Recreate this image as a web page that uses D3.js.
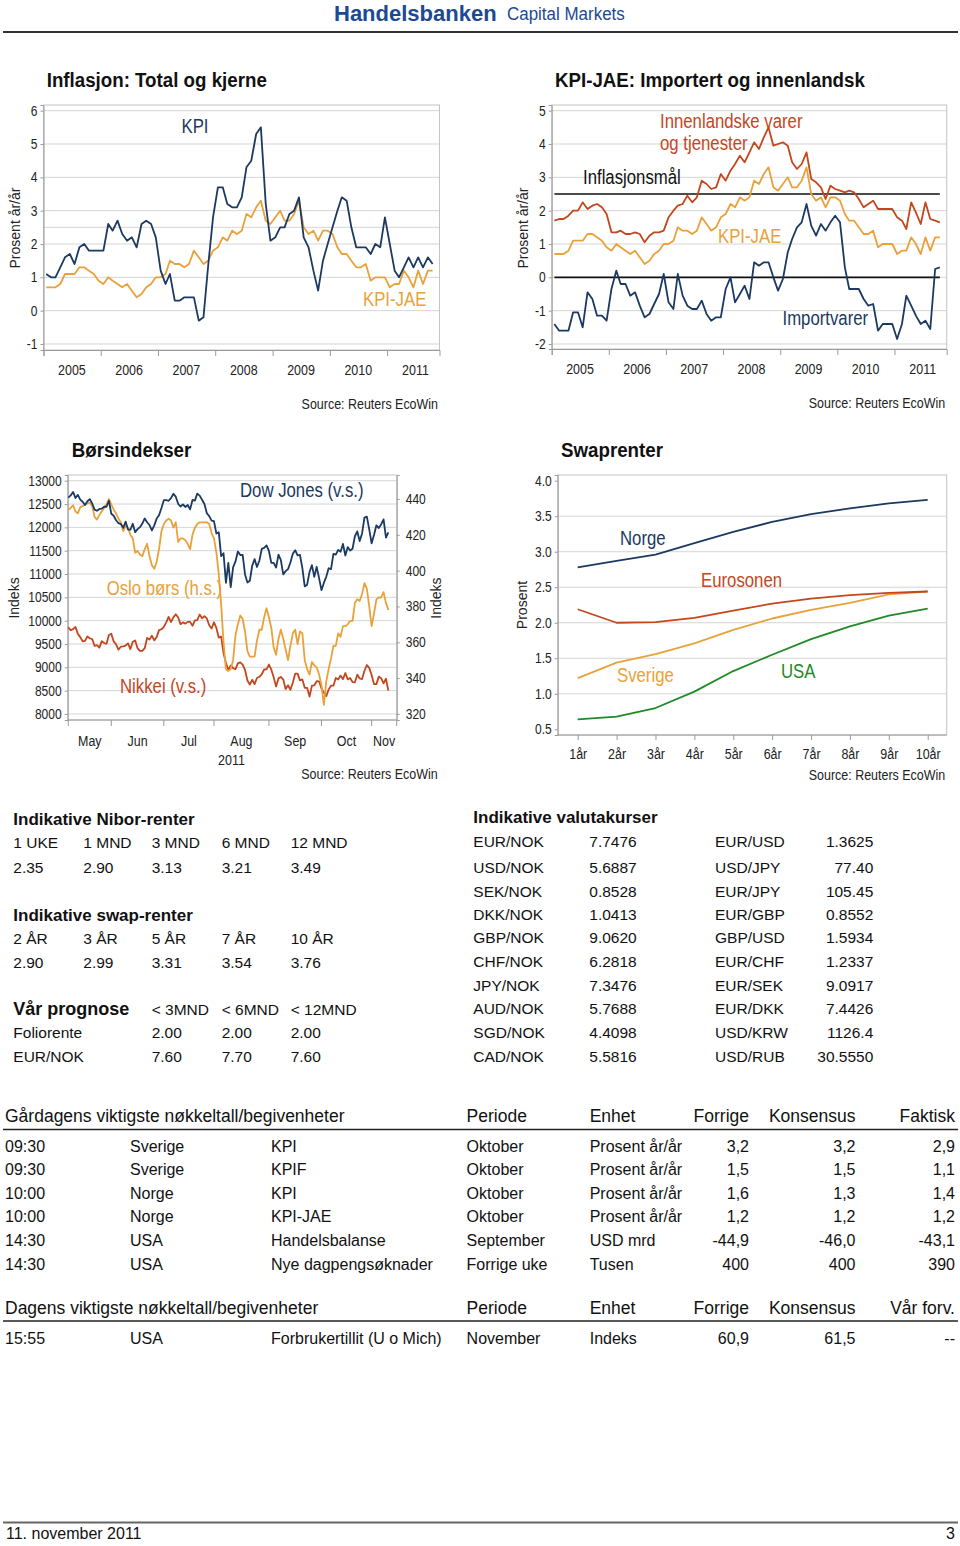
<!DOCTYPE html>
<html><head><meta charset="utf-8">
<script src="https://cdn.jsdelivr.net/npm/d3@7"></script>
<style>body{margin:0;background:#fff}svg{display:block}</style>
</head><body>
<svg id="page" width="960" height="1546"></svg>
<script>
// ---------------- DATA ----------------
const yearLabels = ["2005","2006","2007","2008","2009","2010","2011"];
// monthly, Jan 2005 .. Oct 2011
const kpi = [1.1,1.0,1.0,1.3,1.6,1.7,1.4,1.9,2.0,1.8,1.8,1.8,
 1.8,2.6,2.4,2.7,2.3,2.1,2.2,1.9,2.6,2.7,2.6,2.2,
 1.2,0.8,1.1,0.3,0.3,0.4,0.4,0.4,-0.3,-0.2,1.4,2.8,
 3.7,3.7,3.2,3.1,3.1,3.4,4.3,4.5,5.3,5.5,3.2,2.1,
 2.2,2.5,2.5,2.9,3.0,3.4,2.2,1.9,1.2,0.6,1.5,2.0,
 2.5,3.0,3.4,3.3,2.5,1.9,1.9,1.9,1.7,2.0,1.9,2.8,
 2.0,1.2,1.0,1.3,1.6,1.3,1.6,1.3,1.6,1.4];
const kpiJae = [0.7,0.7,0.7,0.8,1.1,1.1,1.1,1.3,1.3,1.2,1.1,0.9,
 0.8,1.0,0.9,0.8,0.7,0.8,0.6,0.4,0.5,0.7,0.8,1.0,
 1.0,1.1,1.5,1.4,1.4,1.3,1.4,1.8,1.6,1.4,1.5,1.8,
 1.9,2.2,2.1,2.4,2.3,2.4,2.9,2.8,3.1,3.3,2.7,2.6,
 2.8,3.0,2.7,2.7,2.9,3.3,2.5,2.3,2.4,2.1,2.4,2.4,
 2.3,1.9,1.7,1.7,1.5,1.3,1.3,1.4,0.9,1.0,1.0,1.0,
 0.7,0.8,0.8,1.2,1.0,0.7,1.2,0.8,1.2,1.2];
const innenlandske = [1.7,1.75,1.75,1.85,2.0,2.0,2.25,2.05,2.15,2.2,2.1,1.9,
 1.35,1.35,1.4,1.3,1.3,1.35,1.3,1.05,1.25,1.35,1.35,1.4,
 1.8,2.0,2.15,2.2,2.45,2.25,2.4,2.9,2.8,2.65,2.7,3.1,
 2.9,3.2,3.4,3.65,3.45,3.75,4.05,3.85,4.2,4.5,3.95,4.0,
 4.05,3.95,3.45,3.25,3.4,3.75,2.95,2.85,2.7,2.35,2.75,2.65,
 2.6,2.55,2.6,2.55,2.35,2.1,2.2,2.3,2.05,2.05,2.05,2.05,
 1.8,1.7,1.45,2.25,1.95,1.6,2.25,1.75,1.7,1.65];
const importvarer = [-1.4,-1.6,-1.6,-1.6,-1.05,-1.05,-1.5,-0.45,-0.65,-1.15,-1.15,-1.3,
 -0.35,0.2,-0.2,-0.2,-0.55,-0.45,-0.85,-1.2,-1.1,-0.8,-0.5,0.1,
 -0.75,-0.95,0.1,-0.55,-0.85,-0.95,-0.95,-0.7,-1.1,-1.3,-1.2,-1.2,
 -0.35,0.0,-0.75,-0.5,-0.25,-0.65,0.45,0.35,0.45,0.45,0.0,-0.4,
 -0.05,0.75,1.15,1.5,1.65,2.2,1.55,1.25,1.6,1.4,1.65,1.85,
 1.65,0.3,-0.35,-0.35,-0.35,-0.65,-0.85,-0.8,-1.6,-1.4,-1.4,-1.4,
 -1.85,-1.4,-0.55,-0.85,-1.15,-1.4,-1.3,-1.55,0.25,0.3];
const inflasjonsmaal = 2.5;

// daily (trading days), 6 May 2011 .. 10 Nov 2011
const monthLabels = ["May","Jun","Jul","Aug","Sep","Oct","Nov"];
const dowJones = [12638,12684,12760,12630,12695,12595,12548,12479,12560,12605,12512,12381,12356,12394,12402,12441,12441,12570,
 12290,12248,12152,12089,12070,11990,12124,11952,11953,12076,11897,11962,12004,12081,12190,12109,12050,11934,12043,12188,12261,12414,
 12582,12582,12570,12626,12719,12657,12505,12447,12491,12437,12480,12385,12587,12572,12724,12681,12592,12501,12302,12240,12143,
 12132,11867,11896,11384,11445,10810,11240,10720,11143,11269,11482,11406,11410,10990,10818,10855,11177,11320,11150,11285,11540,11560,11614,
 11494,11240,11240,11140,11415,11296,10992,11062,11105,11247,11434,11510,11401,11408,11125,10733,10771,11044,11190,10939,11154,10913,
 10655,10809,10940,11124,11103,11433,11416,11518,11478,11644,11397,11577,11505,11541,11809,11913,11707,11869,12209,12231,11955,
 11658,11836,12044,11983,12068,12170,11780,11894];
const nikkei = [9859,9794,9818,9864,9716,9648,9558,9567,9662,9620,9607,9460,9477,9422,9562,9521,9504,9693,
 9719,9555,9492,9380,9442,9449,9467,9514,9391,9547,9574,9411,9351,9354,9410,9629,9597,9678,9578,9648,9797,9816,
 9868,9965,10082,9972,10071,10137,10069,9925,9963,9936,9974,9974,9890,10005,10010,10132,10050,10097,10047,9902,9833,
 9965,9844,9637,9659,9299,9098,8944,9038,8981,8963,9086,9107,9057,8943,8719,8628,8733,8639,8772,8797,8851,8953,8955,
 9060,8950,8785,8590,8763,8793,8737,8535,8616,8519,8668,8864,8864,8721,8741,8560,8560,8374,8609,8615,8701,8700,
 8545,8456,8382,8522,8606,8606,8773,8738,8823,8747,8879,8742,8772,8682,8678,8843,8762,8748,8926,9050,8988,
 8835,8640,8640,8801,8767,8655,8755,8500];
const osloBors = [434,435,436.5,433,432,435.5,436,437,437.5,438,436,430,428.5,431,433,435,437,440,
 437,434,432,429,427,422,425,424,420,418,410,411,409,408,412,415,408,403,401,405,412,422,
 426,428,429,428,424,427,416,418,418,417,415,412,420,424,426,427,427,427,427,426,421,
 418,410,398,381,360,345,344,345,350,364,370,375,373,366,355,352,352,352,361,367,367,374,379,
 374,368,357,353,362,367,362,356,350,358,365,367,359,366,365,350,345,342,349,347,346,342,
 336,325,338,345,351,358,358,365,363,369,369,370,372,372,382,384,383,387,393,390,380,
 369,376,384,385,385,388,382,378];

const swapTenors = ["1år","2år","3år","4år","5år","6år","7år","8år","9år","10år"];
const swapNorge    = [2.78,2.87,2.96,3.12,3.28,3.42,3.53,3.61,3.68,3.73];
const swapEuro     = [2.19,2.00,2.01,2.07,2.17,2.27,2.34,2.39,2.42,2.44];
const swapSverige  = [1.22,1.44,1.56,1.71,1.90,2.06,2.18,2.28,2.40,2.44];
const swapUSA      = [0.64,0.68,0.80,1.03,1.32,1.55,1.77,1.95,2.10,2.20];

const niborTenors = ["1 UKE","1 MND","3 MND","6 MND","12 MND"];
const niborRates  = ["2.35","2.90","3.13","3.21","3.49"];
const nokSwapTenors = ["2 ÅR","3 ÅR","5 ÅR","7 ÅR","10 ÅR"];
const nokSwapRates  = ["2.90","2.99","3.31","3.54","3.76"];
const prognoseHorizons = ["< 3MND","< 6MND","< 12MND"];
const prognoseFolio  = ["2.00","2.00","2.00"];
const prognoseEurNok = ["7.60","7.70","7.60"];

const fxPairsLeft  = ["EUR/NOK","USD/NOK","SEK/NOK","DKK/NOK","GBP/NOK","CHF/NOK","JPY/NOK","AUD/NOK","SGD/NOK","CAD/NOK"];
const fxRatesLeft  = ["7.7476","5.6887","0.8528","1.0413","9.0620","6.2818","7.3476","5.7688","4.4098","5.5816"];
const fxPairsRight = ["EUR/USD","USD/JPY","EUR/JPY","EUR/GBP","GBP/USD","EUR/CHF","EUR/SEK","EUR/DKK","USD/KRW","USD/RUB"];
const fxRatesRight = ["1.3625","77.40","105.45","0.8552","1.5934","1.2337","9.0917","7.4426","1126.4","30.5550"];

const eventHeadersY = ["Gårdagens viktigste nøkkeltall/begivenheter","Periode","Enhet","Forrige","Konsensus","Faktisk"];
const eventsYesterday = [
 ["09:30","Sverige","KPI","Oktober","Prosent år/år","3,2","3,2","2,9"],
 ["09:30","Sverige","KPIF","Oktober","Prosent år/år","1,5","1,5","1,1"],
 ["10:00","Norge","KPI","Oktober","Prosent år/år","1,6","1,3","1,4"],
 ["10:00","Norge","KPI-JAE","Oktober","Prosent år/år","1,2","1,2","1,2"],
 ["14:30","USA","Handelsbalanse","September","USD mrd","-44,9","-46,0","-43,1"],
 ["14:30","USA","Nye dagpengsøknader","Forrige uke","Tusen","400","400","390"]];
const eventHeadersT = ["Dagens viktigste nøkkeltall/begivenheter","Periode","Enhet","Forrige","Konsensus","Vår forv."];
const eventsToday = [["15:55","USA","Forbrukertillit (U o Mich)","November","Indeks","60,9","61,5","--"]];

// ---------------- STYLE ----------------
const NAVY="#1b3961", ORANGE="#e9a13a", RED="#c4461d", GREEN="#1f8a26";
const SANS="'Liberation Sans',Arial,sans-serif";
const GRID="#d5d5d5", BORDER="#c4c4c4", AXIS="#9a9a9a";
const NX=0.86; // horizontal compression of chart-internal text

const svg = d3.select("#page");
svg.append("rect").attr("width",960).attr("height",1546).attr("fill","#fff");

function txt(x,y,s,o={}){
  const t=svg.append("text").attr("x",x).attr("y",y).text(s)
    .attr("font-family",SANS).attr("font-size",o.size||15.5)
    .attr("font-weight",o.weight||"normal").attr("fill",o.fill||"#111")
    .attr("text-anchor",o.anchor||"start");
  if(o.rotate) t.attr("transform",`rotate(-90,${x},${y})`);
  else if(o.sx) t.attr("transform",`matrix(${o.sx},0,0,1,${x*(1-o.sx)},0)`);
  return t;
}
function styleAxis(g,size){
  g.selectAll("path.domain").attr("stroke",AXIS);
  g.selectAll(".tick line").attr("stroke",AXIS);
  g.selectAll(".tick text").attr("font-family",SANS).attr("font-size",size||14).attr("fill","#222")
    .each(function(){const x=+(this.getAttribute("x")||0);
      this.setAttribute("transform",`matrix(${NX},0,0,1,${x*(1-NX)},0)`);});
}
function grid(x0,x1,ys){
  ys.forEach(y=>svg.append("line").attr("x1",x0).attr("x2",x1).attr("y1",y).attr("y2",y)
    .attr("stroke",GRID).attr("stroke-width",1));
}
function border(b){
  svg.append("rect").attr("x",b.left).attr("y",b.top).attr("width",b.right-b.left)
    .attr("height",b.bottom-b.top).attr("fill","none").attr("stroke",BORDER);
}
function path(data,xf,yf,color,w){
  svg.append("path").datum(data).attr("fill","none").attr("stroke",color)
    .attr("stroke-width",w||1.8).attr("stroke-linejoin","round")
    .attr("d",d3.line().x((d,i)=>xf(i)).y(d=>yf(d)));
}
const LBL=(fill)=>({size:19.5,fill,sx:NX});
const SRC={size:14,anchor:"end",fill:"#222",sx:0.89};
const TITLE={weight:"bold",size:19.5,sx:0.96};

// ---------------- HEADER ----------------
txt(334,20.5,"Handelsbanken",{weight:"bold",size:22,fill:"#1c4a92"});
txt(507,20.5,"Capital Markets",{size:17.5,fill:"#1c4a92",sx:0.97});
svg.append("line").attr("x1",3).attr("x2",958).attr("y1",32).attr("y2",32).attr("stroke","#333").attr("stroke-width",2);

// ---------------- monthly charts helper ----------------
function monthlyChart(b, yDomain, ticks, series, extra){
  const n = series[0].data.length;
  const dates = d3.range(n).map(i=>new Date(2005,i,18));
  const x = d3.scaleTime().domain([new Date(2005,0,1),new Date(2011,11,1)]).range([b.left,b.right]);
  const y = d3.scaleLinear().domain(yDomain).range([b.bottom,b.top]);
  grid(b.left,b.right,ticks.map(y));
  if(extra.grid) grid(b.left,b.right,extra.grid.map(y));
  border(b);
  const ga=svg.append("g").attr("transform",`translate(${b.left},0)`)
    .call(d3.axisLeft(y).tickValues(ticks).tickSize(3).tickPadding(3).tickFormat(d=>String(d)));
  styleAxis(ga);
  const years = yearLabels.map(s=>new Date(+s,0,1));
  const gb=svg.append("g").attr("transform",`translate(0,${b.bottom})`)
    .call(d3.axisBottom(x).tickValues(years).tickSize(6).tickFormat(""));
  styleAxis(gb);
  yearLabels.forEach(s=>txt(x(new Date(+s,6,1)),b.bottom+25,s,{size:14.5,anchor:"middle",fill:"#222",sx:NX}));
  if(extra.hlines) extra.hlines.forEach(v=>svg.append("line")
      .attr("x1",x(dates[0])).attr("x2",x(dates[n-1])).attr("y1",y(v)).attr("y2",y(v))
      .attr("stroke","#111").attr("stroke-width",1.6));
  series.forEach(s=>path(s.data,i=>x(dates[i]),y,s.color));
  txt(b.right-1.5,b.bottom+59,"Source: Reuters EcoWin",SRC);
}

// Chart 1
txt(46.7,87.3,"Inflasjon: Total og kjerne",TITLE);
monthlyChart({left:43.5,right:439.5,top:105,bottom:350},[-1.18,6.17],d3.range(-1,7),
  [{data:kpiJae,color:ORANGE},{data:kpi,color:NAVY}],{grid:[inflasjonsmaal]});
txt(19.5,228,"Prosent år/år",{size:14,anchor:"middle",rotate:true,fill:"#222"});
txt(181.5,133,"KPI",LBL(NAVY));
txt(363,306,"KPI-JAE",LBL(ORANGE));

// Chart 2
txt(555,87.3,"KPI-JAE: Importert og innenlandsk",TITLE);
monthlyChart({left:551.7,right:946.7,top:105,bottom:349},[-2.15,5.17],d3.range(-2,6),
  [{data:kpiJae,color:ORANGE},{data:innenlandske,color:RED},{data:importvarer,color:NAVY}],
  {hlines:[inflasjonsmaal,0]});
txt(527.5,228,"Prosent år/år",{size:14,anchor:"middle",rotate:true,fill:"#222"});
txt(660,128,"Innenlandske varer",LBL(RED));
txt(660,150.5,"og tjenester",LBL(RED));
txt(583,184.5,"Inflasjonsmål",LBL("#111"));
txt(718,243,"KPI-JAE",LBL(ORANGE));
txt(782.5,325.5,"Importvarer",LBL(NAVY));

// ---------------- Chart 3: Børsindekser ----------------
(function(){
  const b={left:67.7,right:396.7,top:475,bottom:720};
  const days=[]; for(let d=new Date(2011,4,6); d<=new Date(2011,10,10); d=new Date(d.getFullYear(),d.getMonth(),d.getDate()+1)){
    if(d.getDay()!==0&&d.getDay()!==6) days.push(d);}
  const x=d3.scaleLinear().domain([-0.25,137.5]).range([b.left,b.right]);
  const yL=d3.scaleLinear().domain([7871,13122]).range([b.bottom,b.top]);
  const yR=d3.scaleLinear().domain([316.6,453.4]).range([b.bottom,b.top]);
  const lt=d3.range(8000,13001,500), rt=d3.range(320,441,20);
  grid(b.left,b.right,lt.map(yL));
  border(b);
  styleAxis(svg.append("g").attr("transform",`translate(${b.left},0)`).call(d3.axisLeft(yL).tickValues(lt).tickSize(3).tickPadding(3).tickFormat(d=>String(d))));
  styleAxis(svg.append("g").attr("transform",`translate(${b.right},0)`).call(d3.axisRight(yR).tickValues(rt).tickSize(3).tickPadding(6).tickFormat(d=>String(d))));
  const firsts=[0]; days.forEach((d,i)=>{ if(i>0&&d.getMonth()!==days[i-1].getMonth()) firsts.push(i); });
  const tickX=firsts.map(i=>x(i)); tickX.push(b.right);
  tickX.forEach(tx=>svg.append("line").attr("x1",tx).attr("x2",tx).attr("y1",b.bottom).attr("y2",b.bottom+6).attr("stroke",AXIS));
  svg.append("line").attr("x1",b.left).attr("x2",b.right).attr("y1",b.bottom).attr("y2",b.bottom).attr("stroke",AXIS);
  monthLabels.forEach((m,k)=>txt((tickX[k]+tickX[k+1])/2,b.bottom+26,m,{size:14.5,anchor:"middle",fill:"#222",sx:NX}));
  txt((tickX[3]+tickX[4])/2-10,b.bottom+45,"2011",{size:14.5,anchor:"middle",fill:"#222",sx:NX});
  path(nikkei,x,yL,RED);
  path(osloBors,x,yR,ORANGE);
  path(dowJones,x,yL,NAVY);
  txt(b.right+41,779.3,"Source: Reuters EcoWin",SRC);
})();
txt(71.7,456.7,"Børsindekser",TITLE);
txt(19.3,598,"Indeks",{size:14,anchor:"middle",rotate:true,fill:"#222"});
txt(440.7,598,"Indeks",{size:14,anchor:"middle",rotate:true,fill:"#222"});
txt(240,497,"Dow Jones (v.s.)",LBL(NAVY));
txt(106.7,595,"Oslo børs (h.s.)",LBL(ORANGE));
txt(120,693,"Nikkei (v.s.)",LBL(RED));

// ---------------- Chart 4: Swaprenter ----------------
(function(){
  const b={left:557.7,right:946.7,top:475,bottom:735};
  const x=d3.scalePoint().domain(swapTenors).range([577.7,927.7]);
  const y=d3.scaleLinear().domain([0.42,4.08]).range([b.bottom,b.top]);
  const ticks=d3.range(0.5,4.01,0.5);
  grid(b.left,b.right,ticks.slice(1,-1).map(y));
  border(b);
  styleAxis(svg.append("g").attr("transform",`translate(${b.left},0)`).call(d3.axisLeft(y).tickValues(ticks).tickSize(3).tickPadding(3).tickFormat(d3.format(".1f"))));
  const gb=svg.append("g").attr("transform",`translate(0,${b.bottom})`).call(d3.axisBottom(x).tickSize(5).tickPadding(9));
  gb.select("path.domain").attr("d",`M${b.left},0H${b.right}`);
  styleAxis(gb,14.5);
  const xi=i=>x(swapTenors[i]);
  path(swapUSA,xi,y,GREEN);
  path(swapSverige,xi,y,ORANGE);
  path(swapEuro,xi,y,RED);
  path(swapNorge,xi,y,NAVY);
  txt(b.right-1.5,780,"Source: Reuters EcoWin",SRC);
})();
txt(561,456.7,"Swaprenter",TITLE);
txt(526.7,605,"Prosent",{size:14,anchor:"middle",rotate:true,fill:"#222"});
txt(620,545,"Norge",LBL(NAVY));
txt(701,587.5,"Eurosonen",LBL(RED));
txt(617,682,"Sverige",LBL(ORANGE));
txt(781,678.5,"USA",LBL(GREEN));

// ---------------- Rate tables ----------------
const tCols=[13.3,83.3,151.7,221.7,290.7];
txt(13.3,825,"Indikative Nibor-renter",{weight:"bold",size:17});
niborTenors.forEach((s,i)=>txt(tCols[i],847.5,s));
niborRates.forEach((s,i)=>txt(tCols[i],873.3,s));
txt(13.3,920.7,"Indikative swap-renter",{weight:"bold",size:17});
nokSwapTenors.forEach((s,i)=>txt(tCols[i],944,s));
nokSwapRates.forEach((s,i)=>txt(tCols[i],967.7,s));
txt(13.3,1015,"Vår prognose",{weight:"bold",size:18});
prognoseHorizons.forEach((s,i)=>txt(tCols[i+2],1015,s));
txt(13.3,1038.3,"Foliorente");
prognoseFolio.forEach((s,i)=>txt(tCols[i+2],1038.3,s));
txt(13.3,1061.7,"EUR/NOK");
prognoseEurNok.forEach((s,i)=>txt(tCols[i+2],1061.7,s));

txt(473.3,823.3,"Indikative valutakurser",{weight:"bold",size:17});
const fxY=[846.7,873.3,896.7,920,943.3,966.7,990.7,1014.3,1037.7,1061.7];
fxPairsLeft.forEach((s,i)=>txt(473.3,fxY[i],s));
fxRatesLeft.forEach((s,i)=>txt(636.7,fxY[i],s,{anchor:"end"}));
fxPairsRight.forEach((s,i)=>txt(715,fxY[i],s));
fxRatesRight.forEach((s,i)=>txt(873.3,fxY[i],s,{anchor:"end"}));

// ---------------- Event tables ----------------
const eX=[5,130,271,466.6,589.7,749,855.5,955];
function eventTable(headers,rows,hy,ly,ry){
  txt(eX[0],hy,headers[0],{size:17.5});
  txt(eX[3],hy,headers[1],{size:17.5});
  txt(eX[4],hy,headers[2],{size:17.5});
  txt(eX[5],hy,headers[3],{size:17.5,anchor:"end"});
  txt(eX[6],hy,headers[4],{size:17.5,anchor:"end"});
  txt(eX[7],hy,headers[5],{size:17.5,anchor:"end"});
  svg.append("line").attr("x1",3).attr("x2",958).attr("y1",ly).attr("y2",ly).attr("stroke","#222").attr("stroke-width",1.6);
  rows.forEach((r,k)=>r.forEach((c,j)=>txt(eX[j],ry[k],c,{size:16,anchor:j>=5?"end":"start"})));
}
eventTable(eventHeadersY,eventsYesterday,1122,1129.5,[1151.5,1175,1198.7,1222.3,1246,1269.5]);
eventTable(eventHeadersT,eventsToday,1314,1321,[1343.5]);

// ---------------- Footer ----------------
svg.append("line").attr("x1",3).attr("x2",958).attr("y1",1522.5).attr("y2",1522.5).attr("stroke","#666").attr("stroke-width",2);
txt(6,1539,"11. november 2011",{size:16});
txt(955,1539,"3",{size:16,anchor:"end"});
</script>
</body></html>
